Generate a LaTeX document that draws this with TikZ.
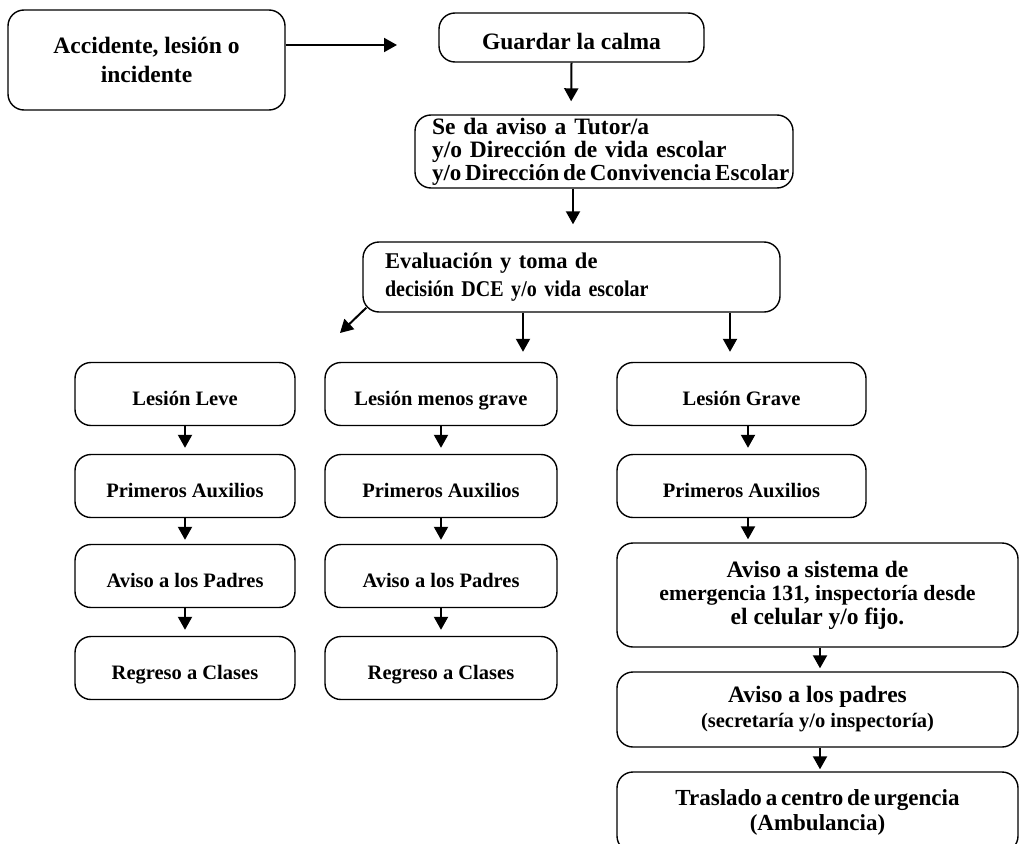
\documentclass[tikz,border=0pt]{standalone}
\usepackage{fontspec}
\setmainfont{Liberation Serif}
\usetikzlibrary{arrows.meta}

\tikzset{
  box/.style={draw, rounded corners=16pt, line width=1.4pt, inner sep=0pt, align=center,
    font=\bfseries\fontsize{20.5}{25}\selectfont},
  bigbox/.style={box, font=\bfseries\fontsize{23.5}{29}\selectfont},
  colbox/.style={box, minimum height=63pt, text height=22pt, text depth=0pt},
  arr/.style={-{Triangle[length=13pt,width=14pt]}, line width=2pt},
}

\begin{document}
\begin{tikzpicture}[x=1pt,y=-1pt]
\useasboundingbox (0,0) rectangle (1019,843);

% top part
\node[bigbox, minimum width=277pt, minimum height=100pt] (acc) at (146.5,60) {Accidente, lesión o\\incidente};
\node[bigbox, minimum width=265pt, minimum height=49pt, text height=25pt, text depth=0pt] (calma) at (571.5,37.5) {Guardar la calma};
\node[bigbox, minimum width=378pt, minimum height=73pt, text width=344pt, align=left,
  font=\bfseries\fontsize{23.5}{23}\selectfont] (aviso) at (604,151.5)
  {Se da aviso a Tutor/a\\y/o Dirección de vida escolar\\{\fontsize{23}{23}\selectfont y/o\,Dirección\,de\,Convivencia\,Escolar}};
\node[box, minimum width=417pt, minimum height=70pt, text width=373pt, align=left,
  font=\bfseries\fontsize{22.5}{28}\selectfont] (eval) at (571.5,277)
  {Evaluación y toma de\\{\addfontfeature{FakeStretch=0.89}decisión DCE y/o vida escolar}};
\coordinate (accR) at (397,45);
\coordinate (evalL) at (340,333);

% leve
\node[colbox, minimum width=220pt] (lv1) at (185,394) {Lesión Leve};
\node[colbox, minimum width=220pt] (lv2) at (185,486) {Primeros Auxilios};
\node[colbox, minimum width=220pt] (lv3) at (185,576) {Aviso a los Padres};
\node[colbox, minimum width=220pt] (lv4) at (185,668) {Regreso a Clases};

% menos grave
\node[colbox, minimum width=232pt] (mg1) at (441,394) {Lesión menos grave};
\node[colbox, minimum width=232pt] (mg2) at (441,486) {Primeros Auxilios};
\node[colbox, minimum width=232pt] (mg3) at (441,576) {Aviso a los Padres};
\node[colbox, minimum width=232pt] (mg4) at (441,668) {Regreso a Clases};

% grave
\node[colbox, minimum width=249pt] (gr1) at (741.5,394) {Lesión Grave};
\node[colbox, minimum width=249pt] (gr2) at (741.5,486) {Primeros Auxilios};
\node[bigbox, minimum width=401pt, minimum height=104pt, font=\bfseries\fontsize{23.5}{23.5}\selectfont] (sis) at (817.5,595)
  {Aviso a sistema de\\{\fontsize{21.8}{23.5}\selectfont emergencia 131, inspectoría desde}\\el celular y/o fijo.};
\node[bigbox, minimum width=401pt, minimum height=75pt, font=\bfseries\fontsize{23.5}{25}\selectfont] (pad) at (817.5,709.5)
  {Aviso a los padres\\{\fontsize{20.5}{25}\selectfont (secretaría y/o inspectoría)}};
\node[bigbox, minimum width=401pt, minimum height=80pt, font=\bfseries\fontsize{23}{25}\selectfont] (tras) at (817.5,812)
  {Traslado\,a\,centro\,de\,urgencia\\(Ambulancia)};

\draw[arr] ([yshift=15pt]acc.east) -- (accR);
\draw[arr, shorten >=13pt] (calma.south) -- ([xshift=-33pt]aviso.north);
\draw[arr, shorten >=17pt] ([xshift=-31pt]aviso.south) -- ([xshift=1.5pt]eval.north);
\draw[arr] ([shift={(4pt,5pt)}]eval.south west) -- (evalL);
\draw[arr, shorten >=10pt] ([xshift=-48.5pt]eval.south) -- ([xshift=82pt]mg1.north);
\draw[arr, shorten >=10pt] ([xshift=158.5pt]eval.south) -- ([xshift=-11.5pt]gr1.north);

\draw[arr, shorten >=6pt] (lv1) -- (lv2);
\draw[arr, shorten >=4pt] (lv2) -- (lv3);
\draw[arr, shorten >=6pt] (lv3) -- (lv4);
\draw[arr, shorten >=6pt] (mg1) -- (mg2);
\draw[arr, shorten >=4pt] (mg2) -- (mg3);
\draw[arr, shorten >=6pt] (mg3) -- (mg4);
\draw[arr, shorten >=6pt] ([xshift=6.5pt]gr1.south) -- ([xshift=6.5pt]gr2.north);
\draw[arr, shorten >=3pt] ([xshift=6.5pt]gr2.south) -- ([xshift=-69.5pt]sis.north);
\draw[arr, shorten >=3pt] ([xshift=2.5pt]sis.south) -- ([xshift=2.5pt]pad.north);
\draw[arr, shorten >=2pt] ([xshift=2.5pt]pad.south) -- ([xshift=2.5pt]tras.north);
\end{tikzpicture}
\end{document}
